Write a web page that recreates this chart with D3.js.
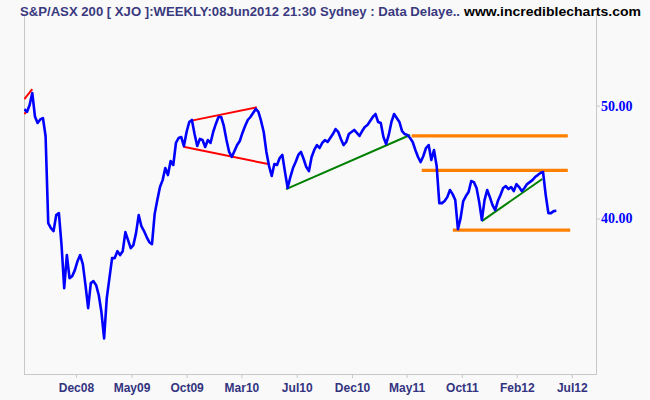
<!DOCTYPE html>
<html>
<head>
<meta charset="utf-8">
<script src="https://cdn.jsdelivr.net/npm/d3@7"></script>
<style>
  body { margin: 0; background: #f9f9f9; }
  svg { display: block; font-family: "Liberation Sans", Arial, sans-serif; }
</style>
</head>
<body>
<svg id="chart"></svg>
<script>
// weekly closes (index / 100), Aug 2008 .. 08 Jun 2012
var closes = [
  49.64, 49.38, 50.07, 51.27, 48.94, 48.31, 48.65, 48.79, 47.09, 39.63,
  39.24, 39.01, 40.26, 40.42, 37.94, 34.84, 37.20, 35.54, 35.68, 36.11,
  36.75, 37.20, 36.54, 35.05, 33.49, 35.19, 35.33, 35.05, 34.36, 33.22,
  31.55, 34.16, 35.54, 36.98, 36.98, 37.49, 37.20, 37.49, 38.93, 38.32,
  37.71, 37.94, 38.85, 40.26, 39.40, 39.01, 38.55, 38.16, 38.02, 40.34,
  41.48, 42.56, 43.15, 44.19, 43.58, 44.81, 44.46, 46.44, 46.90, 46.99,
  46.16, 47.46, 48.41, 48.60, 47.27, 46.16, 46.81, 46.71, 46.07, 46.71,
  46.44, 47.46, 48.22, 48.89, 48.89, 48.03, 46.71, 45.62, 45.17, 45.71,
  46.25, 46.62, 47.37, 48.03, 48.60, 48.89, 49.28, 49.67, 49.38, 48.51,
  47.46, 45.62, 44.37, 43.50, 44.54, 44.46, 45.08, 45.35, 43.84, 42.48,
  43.41, 44.19, 44.72, 45.35, 45.62, 44.99, 44.28, 43.93, 45.17, 45.80,
  46.25, 45.98, 46.44, 46.71, 46.53, 46.90, 47.27, 47.74, 47.46, 46.81,
  46.25, 46.53, 47.27, 47.46, 47.65, 47.37, 47.09, 47.55, 47.93, 48.12,
  48.51, 48.89, 49.18, 48.41, 48.31, 46.99, 46.34, 47.18, 48.41, 49.18,
  48.79, 48.41, 47.55, 47.27, 47.18, 46.90, 46.53, 45.80, 45.17, 44.72,
  45.26, 45.98, 46.25, 44.90, 45.80, 44.37, 41.23, 41.23, 41.40, 41.72,
  42.31, 41.97, 41.48, 39.16, 40.02, 41.40, 41.81, 42.14, 43.07, 42.98,
  42.48, 41.31, 39.87, 41.48, 42.31, 41.72, 41.07, 40.66, 41.40, 41.89,
  42.48, 42.64, 42.39, 42.56, 42.22, 42.81, 42.56, 42.22, 42.48, 42.81,
  42.98, 43.15, 43.41, 43.58, 43.76, 43.84, 41.89, 40.42, 40.42, 40.58,
  40.61
];

// x axis labels and the bar index they sit at
var xTickLabels = ["Dec08", "May09", "Oct09", "Mar10", "Jul10", "Dec10", "May11", "Oct11", "Feb12", "Jul12"];
var xTickBars = [19.4, 40.3, 61.0, 81.6, 102.4, 123.2, 143.7, 164.5, 185.1, 205.8];

var yTickValues = [50, 40];

// drawn trendlines: [startBar, startValue, endBar, endValue]
var redLines = [
  [0, 50.64, 3, 51.65],
  [0, 49.18, 1.1, 49.48],
  [62.9, 48.54, 87.4, 49.84],
  [59.8, 46.10, 91.7, 44.54]
];
var greenLines = [
  [98.4, 42.39, 145.0, 47.18],
  [172.0, 39.79, 194.7, 43.24]
];
var orangeLines = [
  [145.6, 47.09, 204.3, 47.09],
  [149.4, 43.99, 204.3, 43.99],
  [161.1, 39.08, 205.2, 39.08]
];

var width = 650,
    height = 400,
    plotL = 24, plotR = 596, plotT = 14, plotB = 374;

var x = d3.scaleLinear()
    .domain([0, 214.9])
    .range([24.3, plotR]);

var y = d3.scaleLog()
    .domain([29.4, 59.0])
    .range([plotB, 22]);

var svg = d3.select("#chart")
    .attr("width", width)
    .attr("height", height);

svg.append("rect")
    .attr("width", width)
    .attr("height", height)
    .attr("fill", "#f9f9f9");

svg.append("clipPath")
    .attr("id", "plotclip")
  .append("rect")
    .attr("x", plotL)
    .attr("y", plotT)
    .attr("width", plotR - plotL)
    .attr("height", plotB - plotT);

// frame
svg.append("path")
    .attr("d", "M" + plotL + "," + plotT + "V" + plotB + "H" + plotR + "V" + plotT)
    .attr("fill", "none")
    .attr("stroke", "#c8c8c8")
    .attr("stroke-width", 1)
    .attr("shape-rendering", "crispEdges");

// bottom axis
var xAxis = d3.axisBottom(x)
    .tickValues(xTickBars)
    .tickSize(4)
    .tickPadding(5)
    .tickFormat(function(d, i) { return xTickLabels[i]; });

var gx = svg.append("g")
    .attr("transform", "translate(0," + plotB + ")")
    .call(xAxis);
gx.select(".domain").remove();
gx.selectAll(".tick line").attr("stroke", "#c8c8c8");
gx.selectAll(".tick text")
    .attr("fill", "#333380")
    .style("font-size", "12px")
    .style("font-weight", "bold")
    .style("font-family", "'Liberation Sans', Arial, sans-serif");

// right axis
var yAxis = d3.axisRight(y)
    .tickValues(yTickValues)
    .tickSize(4)
    .tickPadding(1)
    .tickFormat(d3.format(".2f"));

var gy = svg.append("g")
    .attr("transform", "translate(" + plotR + ",0)")
    .call(yAxis);
gy.select(".domain").remove();
gy.selectAll(".tick line").attr("stroke", "#c8c8c8");
gy.selectAll(".tick text")
    .attr("fill", "#0000ff")
    .style("font-size", "14px")
    .style("font-weight", "bold")
    .style("font-family", "'Liberation Serif', 'Times New Roman', serif");

var plot = svg.append("g").attr("clip-path", "url(#plotclip)");

function drawSegments(data, color, w) {
  plot.selectAll(null)
      .data(data)
      .enter()
      .append("line")
      .attr("x1", function(d) { return x(d[0]); })
      .attr("y1", function(d) { return y(d[1]); })
      .attr("x2", function(d) { return x(d[2]); })
      .attr("y2", function(d) { return y(d[3]); })
      .attr("stroke", color)
      .attr("stroke-width", w);
}

var line = d3.line()
    .x(function(d, i) { return x(i); })
    .y(function(d) { return y(d); });

drawSegments(redLines, "#ff0000", 2);
drawSegments(greenLines, "#008000", 2);
drawSegments(orangeLines, "#ff8000", 3.2);

plot.append("path")
    .datum(closes)
    .attr("d", line)
    .attr("fill", "none")
    .attr("stroke", "#0000ff")
    .attr("stroke-width", 2.6)
    .attr("stroke-linejoin", "round");

// header
svg.append("text")
    .attr("x", 20)
    .attr("y", 16)
    .attr("textLength", 440)
    .attr("lengthAdjust", "spacingAndGlyphs")
    .attr("fill", "#3a3a80")
    .style("font-size", "13px")
    .style("font-weight", "bold")
    .text("S&P/ASX 200 [ XJO ]:WEEKLY:08Jun2012 21:30 Sydney : Data Delaye..");

svg.append("text")
    .attr("x", 464)
    .attr("y", 16)
    .attr("textLength", 177)
    .attr("lengthAdjust", "spacingAndGlyphs")
    .attr("fill", "#000000")
    .style("font-size", "13px")
    .style("font-weight", "bold")
    .text("www.incrediblecharts.com");
</script>
</body>
</html>
